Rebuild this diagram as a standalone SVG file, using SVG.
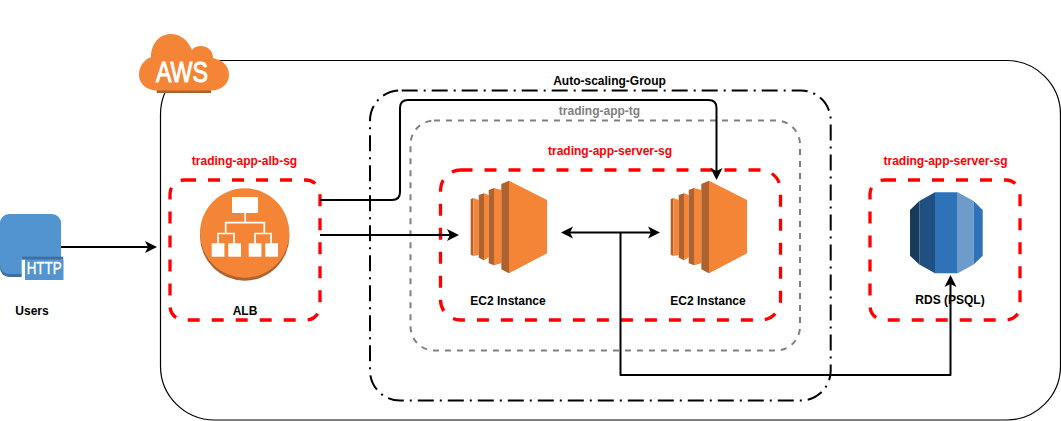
<svg xmlns="http://www.w3.org/2000/svg" width="1061" height="421" viewBox="0 0 1061 421">
<style>
text{font-family:"Liberation Sans",Arial,sans-serif;font-size:12px;font-weight:700;text-anchor:middle}
.blk{fill:#000}.red{fill:#f00}.gry{fill:#808080}
.sg{fill:none;stroke:#f00;stroke-width:3.300;stroke-dasharray:12 12}
.conn{fill:none;stroke:#000;stroke-width:2;stroke-linejoin:round}
.o{fill:#f58536}.d{fill:#ad6230}.w{fill:#fff}
.tree{fill:none;stroke:#fff;stroke-width:1.700}
</style>
<defs>
<marker id="arrow" markerUnits="userSpaceOnUse" markerWidth="13" markerHeight="13" refX="9" refY="6.500" orient="auto-start-reverse" overflow="visible">
<path d="M12 6.500 L0 .5 L3 6.500 L0 12.500Z" fill="#000"/>
</marker>
<g id="ec2">
<path class="d" d="M.4 19.300L3 18V76L.4 74.700z"/>
<path class="o" d="M3 18L8.400 20V75L3 76z"/>
<path class="d" d="M8.400 15L13.700 13.300V80.300L8.400 77.700z"/>
<path class="o" d="M13.700 13.300L18.400 15V77.300L13.700 80.300z"/>
<path class="d" d="M18.400 10L23.700 8V85.300L18.400 83.300z"/>
<path class="o" d="M23.700 8L31 10V83.300L23.700 85.300z"/>
<path class="d" d="M31 4L38.700 .7V93.300L31 89.300z"/>
<path class="o" d="M38.700 .7L76.700 20V73.300L38.700 93.300z"/>
</g>
</defs>
<g id="region">
<rect x="160.500" y="60.500" width="900" height="359.500" rx="54" fill="none" stroke="#000" stroke-width="1.200"/>
</g>
<g id="asg">
<path d="M401.700 90.500H800.700A30 30 0 0 1 830.700 120.500V370.500A30 30 0 0 1 800.700 400.500H400A30 30 0 0 1 370 370.500V120.500A30 30 0 0 1 400 90.500Z" fill="none" stroke="#000" stroke-width="2" stroke-dasharray="16 6 2 6"/>
</g>
<g id="tg">
<path d="M434 120.500H776A24 24 0 0 1 800 144.500V326.500A24 24 0 0 1 776 350.500H434.500A24 24 0 0 1 410.500 326.500V144.500A24 24 0 0 1 434.500 120.500Z" fill="none" stroke="#808080" stroke-width="2" stroke-dasharray="6 6"/>
</g>
<g id="alb-sg"><path class="sg" d="M184 180H306A14 14 0 0 1 320 194V306A14 14 0 0 1 306 320H184A14 14 0 0 1 170 306V194A14 14 0 0 1 184 180Z"/></g>
<g id="server-sg"><path class="sg" d="M460.500 170H760.500A20 20 0 0 1 780.500 190V300A20 20 0 0 1 760.500 320H460.500A20 20 0 0 1 440.500 300V190A20 20 0 0 1 460.500 170Z"/></g>
<g id="rds-sg"><path class="sg" d="M884 180H1006A14 14 0 0 1 1020 194V306A14 14 0 0 1 1006 320H884A14 14 0 0 1 870 306V194A14 14 0 0 1 884 180Z"/></g>
<g id="connectors">
<path class="conn" d="M61 247H154" marker-end="url(#arrow)"/>
<path class="conn" d="M320 200H392Q400 200 400 192V108Q400 100 408 100H708.500Q716.500 100 716.500 108V177" marker-end="url(#arrow)"/>
<path class="conn" d="M320 235H456" marker-end="url(#arrow)"/>
<path class="conn" d="M564 232.500H657" marker-start="url(#arrow)" marker-end="url(#arrow)"/>
<path class="conn" d="M620.500 232.500V375H950.500V278" marker-end="url(#arrow)"/>
</g>
<g id="aws">
<path class="d" d="M156.700 88H211V93H156.700z"/>
<path class="o" d="M157 90.500H211C221 90.500 229 84 229 75C229 65 222 60 213 58C213 51 208 46 201 46C197 46 194 47 192 50C188 40 180 34 171 34C159 34 151 44 151 57C144 60 139 66 139 75C139 84 147 90.500 157 90.500Z"/>
<text x="182" y="82" textLength="52" lengthAdjust="spacingAndGlyphs" style="font-size:30px;font-weight:400;stroke:#fff;stroke-width:1" fill="#fff">AWS</text>
</g>
<g id="users">
<rect y="216" width="61" height="61" rx="9" fill="#3f6f9f"/>
<rect y="214" width="61" height="60" rx="9" fill="#5294cf"/>
<rect x="21.700" y="257" width="4" height="23" class="w"/>
<rect x="21.700" y="256.700" width="41.500" height="3" fill="#3f6f9f"/>
<rect x="25" y="259.500" width="38.500" height="20.500" fill="#5294cf"/>
<text x="44.200" y="274" textLength="35" lengthAdjust="spacingAndGlyphs" style="font-size:16px;font-weight:400;stroke:#fff;stroke-width:.35" fill="#fff">HTTP</text>
<text class="blk" x="32" y="315">Users</text>
</g>
<g id="alb">
<circle class="d" cx="244.700" cy="236" r="44.700"/>
<circle class="o" cx="244.700" cy="233" r="44.700"/>
<rect class="w" x="232" y="197" width="26" height="16"/>
<path class="tree" d="M245.200 213V222.700M225.700 233.500V222.700H264.300V233.500M218 243.500V233.500H234V243.500M255 243.500V233.500H271V243.500"/>
<rect class="w" x="211.700" y="243.300" width="12.700" height="13.400"/><rect class="w" x="228.300" y="243.300" width="12.700" height="13.400"/>
<rect class="w" x="248.700" y="243.300" width="12.700" height="13.400"/><rect class="w" x="265.300" y="243.300" width="12.700" height="13.400"/>
<text class="blk" x="245" y="315">ALB</text>
</g>
<g id="ec2-1"><use href="#ec2" x="470.300" y="180"/><text class="blk" x="508" y="305">EC2 Instance</text></g>
<g id="ec2-2"><use href="#ec2" x="670.300" y="180"/><text class="blk" x="708" y="305">EC2 Instance</text></g>
<g id="rds">
<path fill="#1a3a5c" d="M910 210L919.300 201V264.500L910 255.700z"/>
<path fill="#205081" d="M919.300 201L935 192.300V273.300L919.300 264.500z"/>
<path fill="#2e73b8" d="M935 192.300H957.700V273.300H935z"/>
<path fill="#6d9ccb" d="M957.700 192.300L973.700 201V264.500L957.700 273.300z"/>
<path fill="#2e73b8" d="M973.700 201L982.700 210V255.700L973.700 264.500z"/>
<text class="blk" x="950" y="304">RDS (PSQL)</text>
</g>
<g id="labels">
<text class="blk" x="609.500" y="85">Auto-scaling-Group</text>
<text class="gry" x="599.500" y="115">trading-app-tg</text>
<text class="red" x="244.500" y="165">trading-app-alb-sg</text>
<text class="red" x="610" y="155">trading-app-server-sg</text>
<text class="red" x="945.500" y="165">trading-app-server-sg</text>
</g>
</svg>
